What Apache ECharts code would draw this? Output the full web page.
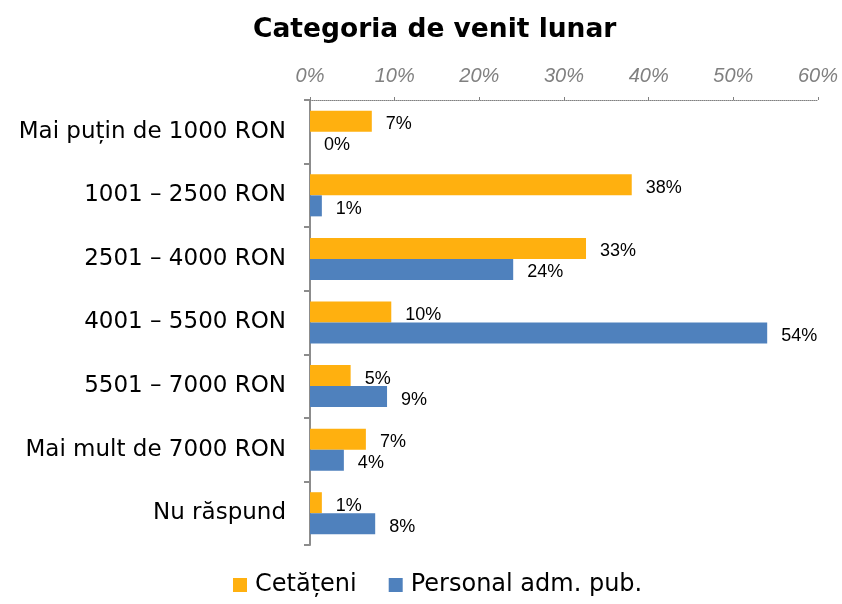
<!DOCTYPE html>
<html><head><meta charset="utf-8">
<script src="https://cdn.jsdelivr.net/npm/echarts@6/dist/echarts.min.js"></script>
<style>html,body{margin:0;padding:0;background:#fff}#c{width:842px;height:604px}</style>
</head><body><div id="c"></div>
<script>
const categories = ['Mai puțin de 1000 RON','1001 – 2500 RON','2501 – 4000 RON','4001 – 5500 RON','5501 – 7000 RON','Mai mult de 7000 RON','Nu răspund'];
const seriesNames = ['Cetățeni','Personal adm. pub.'];
const cetateni = [7.3, 38, 32.6, 9.6, 4.8, 6.6, 1.4];
const personal = [0, 1.4, 24, 54, 9.1, 4, 7.7];
const xTicks = [0, 10, 20, 30, 40, 50, 60];

const chart = echarts.init(document.getElementById('c'));
const lbl = {
  show: true, position: 'right', distance: 14, offset: [0, 3],
  fontFamily: 'Liberation Sans Narrow, Liberation Sans, sans-serif', fontSize: 18, color: '#000',
  formatter: p => Math.round(p.value) + '%'
};
chart.setOption({
  animation: false,
  title: { text: 'Categoria de venit lunar', left: 248, top: 12,
    textStyle: { fontFamily: 'DejaVu Sans', fontWeight: 'bold', fontSize: 26.5, color: '#000' } },
  legend: { bottom: 2, left: 228, itemWidth: 14, itemHeight: 14, itemGap: 32, icon: 'rect',
    textStyle: { fontFamily: 'DejaVu Sans', fontSize: 24, color: '#000', padding: [0, 0, 0, 3] },
    data: seriesNames },
  grid: { left: 310, right: 24, top: 100, bottom: 59, containLabel: false },
  xAxis: { type: 'value', position: 'top', min: xTicks[0], max: xTicks[xTicks.length-1], interval: 10,
    axisLine: { show: true, lineStyle: { color: '#808080', type: 'dotted', width: 1 } },
    axisTick: { show: true, length: 3, lineStyle: { color: '#808080' } },
    splitLine: { show: false },
    axisLabel: { formatter: v => v + '%', margin: 14, fontStyle: 'italic', fontFamily: 'Liberation Sans', fontSize: 20, color: '#808080' } },
  yAxis: { type: 'category', data: categories, inverse: true,
    axisLine: { show: true, lineStyle: { color: '#8c8c8c', width: 2 } },
    axisTick: { show: true, length: 6, lineStyle: { color: '#8c8c8c', width: 2 } },
    axisLabel: { margin: 24, fontFamily: 'DejaVu Sans', fontSize: 23, color: '#000' } },
  series: [
    { name: seriesNames[0], type: 'bar', data: cetateni, barWidth: 21, barGap: '0%',
      itemStyle: { color: '#FFB00F' }, label: lbl },
    { name: seriesNames[1], type: 'bar', data: personal, barWidth: 21, barGap: '0%',
      itemStyle: { color: '#4F81BD' }, label: lbl }
  ]
});
</script></body></html>
